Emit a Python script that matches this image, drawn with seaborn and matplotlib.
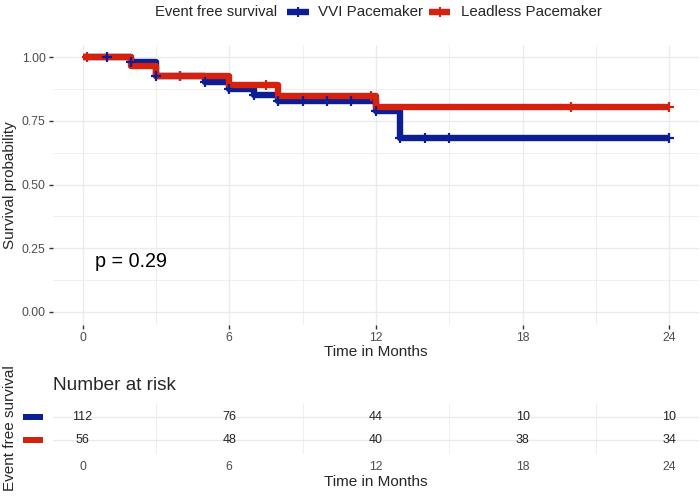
import numpy as np
import pandas as pd
import matplotlib
matplotlib.use("Agg")
import matplotlib.pyplot as plt
from matplotlib.lines import Line2D
from matplotlib.patches import Rectangle
import matplotlib.transforms as mtransforms
import seaborn as sns

# ---------------- data ----------------
groups = ["VVI Pacemaker", "Leadless Pacemaker"]
colors = ["#0B1E93", "#D4220F"]

vvi_times = [0, 2, 3, 5, 6, 7, 8, 12, 13, 24]
vvi_surv = [1.0, 0.982, 0.928, 0.904, 0.877, 0.853, 0.828, 0.790, 0.685, 0.685]
vvi_censor = [1, 2, 3, 4, 5, 6, 7, 8, 9, 10, 11, 12, 13, 14, 15, 24]

lead_times = [0, 2, 3, 6, 8, 12, 24]
lead_surv = [1.0, 0.964, 0.928, 0.890, 0.850, 0.805, 0.805]
lead_censor = [0.2, 4, 7.5, 11.8, 20, 24]

risk_times = [0, 6, 12, 18, 24]
vvi_risk = [112, 76, 44, 10, 10]
lead_risk = [56, 48, 40, 38, 34]

x_ticks = [0, 6, 12, 18, 24]
y_ticks = [0.0, 0.25, 0.5, 0.75, 1.0]
p_text = "p = 0.29"

# ---------------- frames ----------------
curve_df = pd.concat([
    pd.DataFrame({"time": vvi_times, "surv": vvi_surv, "group": groups[0]}),
    pd.DataFrame({"time": lead_times, "surv": lead_surv, "group": groups[1]}),
], ignore_index=True)


def surv_at(times, surv, t):
    idx = np.searchsorted(np.asarray(times), t, side="right") - 1
    return np.asarray(surv)[idx]


censor_df = pd.concat([
    pd.DataFrame({"time": vvi_censor,
                  "surv": surv_at(vvi_times, vvi_surv, np.array(vvi_censor)),
                  "group": groups[0]}),
    pd.DataFrame({"time": lead_censor,
                  "surv": surv_at(lead_times, lead_surv, np.array(lead_censor)),
                  "group": groups[1]}),
], ignore_index=True)

# ---------------- style ----------------
sns.set_style("white")
plt.rcParams["font.family"] = ["Liberation Sans", "DejaVu Sans"]

GRID = "#EBEBEB"
TICKC = "#4D4D4D"

fig = plt.figure(figsize=(7, 4.96), dpi=100)
W, H = 700, 496
ax_left = 53.2 / W
ax_w = (698.6 - 53.2) / W

ax = fig.add_axes([ax_left, 1 - 324.7 / H, ax_w, (324.7 - 44.6) / H])
pal = dict(zip(groups, colors))

for g in groups:
    sub = curve_df[curve_df.group == g]
    sns.lineplot(data=sub, x="time", y="surv", color=pal[g], ax=ax,
                 drawstyle="steps-post", linewidth=4.6, estimator=None,
                 sort=False, legend=False, solid_joinstyle="round",
                 solid_capstyle="butt", zorder=3)
    csub = censor_df[censor_df.group == g]
    sns.scatterplot(data=csub, x="time", y="surv", color=pal[g], ax=ax,
                    marker="+", s=50, linewidth=1.6, legend=False, zorder=4)

ax.set_xlim(-1.2, 25.2)
ax.set_ylim(-0.05, 1.05)
ax.set_xticks(x_ticks)
ax.set_xticks([3, 9, 15, 21], minor=True)
ax.set_yticks(y_ticks)
ax.set_yticklabels([f"{v:.2f}" for v in y_ticks])
ax.set_yticks([0.125, 0.375, 0.625, 0.875], minor=True)
ax.grid(which="major", color=GRID, linewidth=1.0)
ax.grid(which="minor", color=GRID, linewidth=0.55)
ax.set_axisbelow(True)
for s in ax.spines.values():
    s.set_visible(False)
ax.tick_params(which="major", length=3, width=1.0, color="#333333",
               labelcolor=TICKC, labelsize=8.8, pad=2.5)
ax.tick_params(which="minor", length=0)
ax.tick_params(axis="x", which="major", length=3, bottom=True)
ax.tick_params(axis="y", which="major", left=True)
ax.set_xlabel("")
ax.set_ylabel("")
ax.text(0.5, 0.198, p_text, ha="left", va="center", fontsize=14.2,
        color="black")

# axis titles
fig.text(376 / W, 1 - 352 / H, "Time in Months", ha="center", va="center",
         fontsize=11)
fig.text(10 / W, 1 - 185 / H, "Survival probability", ha="center",
         va="center", rotation=90, fontsize=11)

# legend (placed by hand)
ly = 1 - 12 / H
fig.text(155 / W, ly, "Event free survival", ha="left", va="center",
         fontsize=10.6)
key_spans = [(287, 309), (429, 450)]
label_x = [318, 461]
for (x0, x1), c, lab, lx in zip(key_spans, colors, groups, label_x):
    fig.add_artist(Line2D([x0 / W, x1 / W], [ly, ly], color=c, lw=4.6,
                          solid_capstyle="butt", transform=fig.transFigure))
    fig.add_artist(Line2D([(x0 + x1) / 2 / W], [ly], color=c, marker="+",
                          markersize=7, markeredgewidth=1.5, lw=0,
                          transform=fig.transFigure))
    fig.text(lx / W, ly, lab, ha="left", va="center", fontsize=10.9)

# ---------------- risk table ----------------
ax2 = fig.add_axes([ax_left, 1 - 454 / H, ax_w, (454 - 403) / H])
ax2.set_xlim(-1.2, 25.2)
ax2.set_ylim(-0.6, 1.6)
ax2.set_xticks(x_ticks)
ax2.set_xticks([3, 9, 15, 21], minor=True)
ax2.set_yticks([0, 1])
ax2.set_yticklabels(["", ""])
ax2.grid(axis="x", which="minor", color=GRID, linewidth=0.55)
ax2.grid(axis="x", which="major", visible=False)
ax2.grid(axis="y", which="major", color=GRID, linewidth=1.0)
ax2.set_axisbelow(True)
for s in ax2.spines.values():
    s.set_visible(False)
ax2.tick_params(which="both", length=0, labelcolor=TICKC, labelsize=8.8,
                pad=5)

rows = [(1, vvi_risk), (0, lead_risk)]
for (ypos, vals) in rows:
    for t, v in zip(risk_times, vals):
        ax2.text(t, ypos, str(v), ha="center", va="center", fontsize=9,
                 color="#222222")

trans = mtransforms.blended_transform_factory(ax2.transAxes, ax2.transData)
for (ypos, _), c in zip(rows, colors):
    ax2.add_patch(Rectangle(((23 - 53.2) / 645.4, ypos - 0.14),
                            20 / 645.4, 0.28, transform=trans,
                            facecolor=c, edgecolor="none", clip_on=False))

fig.text(53 / W, 1 - 385 / H, "Number at risk", ha="left", va="center",
         fontsize=13.7)
fig.text(376 / W, 1 - 482 / H, "Time in Months", ha="center", va="center",
         fontsize=11)
fig.text(10 / W, 1 - 428 / H, "Event free survival", ha="center",
         va="center", rotation=90, fontsize=11)

fig.savefig("out.png", dpi=100)
